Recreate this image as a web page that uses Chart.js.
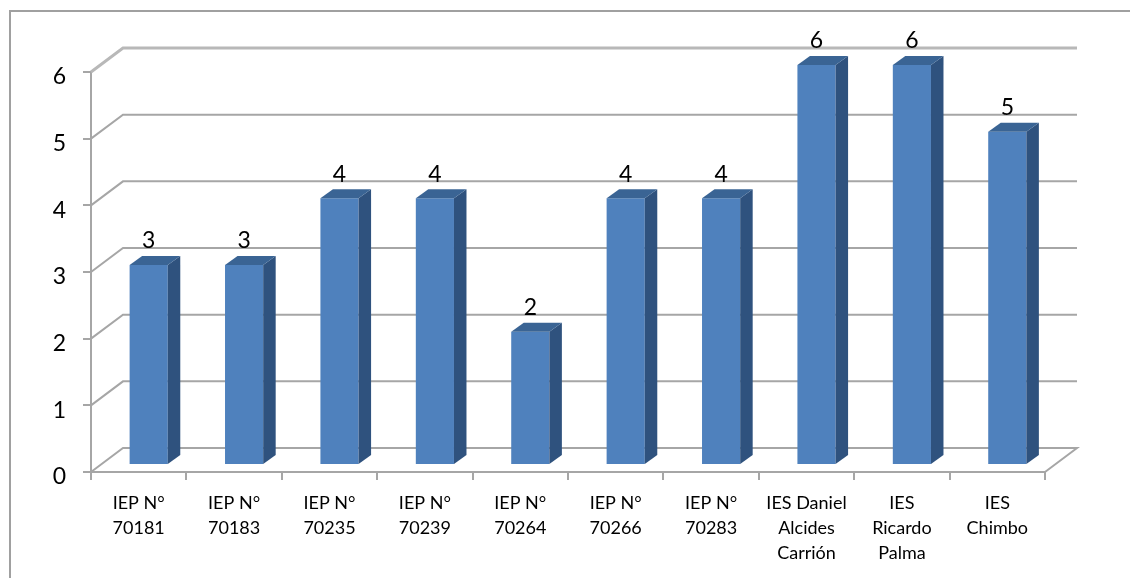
<!DOCTYPE html>
<html>
<head>
<meta charset="utf-8">
<style>
  html, body { margin: 0; padding: 0; background: #fff; }
  canvas { display: block; }
</style>
<script src="https://cdn.jsdelivr.net/npm/chart.js@4/dist/chart.umd.min.js"></script>
</head>
<body>
<canvas id="chart" width="1130" height="578"></canvas>
<script>
const categories = [
  ['IEP N°', '70181'], ['IEP N°', '70183'], ['IEP N°', '70235'], ['IEP N°', '70239'],
  ['IEP N°', '70264'], ['IEP N°', '70266'], ['IEP N°', '70283'],
  ['IES Daniel', 'Alcides', 'Carrión'], ['IES', 'Ricardo', 'Palma'], ['IES', 'Chimbo']
];
const counts = [3, 3, 4, 4, 2, 4, 4, 6, 6, 5];
const yTicks = [0, 1, 2, 3, 4, 5, 6];

// Perspective of the box: wall depth and how far a bar stands inside the floor.
const WALL = { dx: 32, dy: -24 };
const BAR_INSET = { dx: 10, dy: -7 };
const BAR_DEPTH = { dx: 12.5, dy: -9 };
const AXIS_GREY = '#a6a6a6';

const fauxThreeD = {
  id: 'fauxThreeD',
  beforeDraw(chart) {
    const { ctx } = chart;
    // Outer chart border: only the top and left edges fall inside the canvas.
    ctx.save();
    ctx.strokeStyle = '#a0a0a0';
    ctx.lineWidth = 2;
    ctx.beginPath();
    ctx.moveTo(10, 578);
    ctx.lineTo(10, 11);
    ctx.lineTo(1130, 11);
    ctx.stroke();
    ctx.restore();
  },
  beforeDatasetsDraw(chart) {
    const { ctx, scales } = chart;
    const left = scales.x.left, right = scales.x.right;
    ctx.save();
    ctx.lineCap = 'butt';
    yTicks.forEach((t) => {
      const y = scales.y.getPixelForValue(t);
      const isTop = t === yTicks[yTicks.length - 1];
      ctx.strokeStyle = isTop ? '#b8b8b8' : AXIS_GREY;
      ctx.lineWidth = isTop ? 3 : 2;
      ctx.beginPath();
      ctx.moveTo(left, y);
      ctx.lineTo(left + WALL.dx, y + WALL.dy);
      ctx.lineTo(right + WALL.dx, y + WALL.dy);
      if (t === 0) ctx.lineTo(right, y);
      ctx.stroke();
    });
    ctx.restore();
  },
  beforeDatasetDraw(chart) {
    chart.ctx.save();
    chart.ctx.translate(BAR_INSET.dx, BAR_INSET.dy);
  },
  afterDatasetDraw(chart) {
    chart.ctx.restore();
  },
  afterDatasetsDraw(chart) {
    const { ctx } = chart;
    chart.getDatasetMeta(0).data.forEach((bar, i) => {
      const l = bar.x - bar.width / 2 + BAR_INSET.dx;
      const r = bar.x + bar.width / 2 + BAR_INSET.dx;
      const t = bar.y + BAR_INSET.dy;
      const b = bar.base + BAR_INSET.dy;
      const { dx, dy } = BAR_DEPTH;
      ctx.fillStyle = '#2f527e';
      ctx.beginPath();
      ctx.moveTo(r, t);
      ctx.lineTo(r + dx, t + dy);
      ctx.lineTo(r + dx, b + dy);
      ctx.lineTo(r, b);
      ctx.closePath();
      ctx.fill();
      ctx.fillStyle = '#3a6494';
      ctx.beginPath();
      ctx.moveTo(l, t);
      ctx.lineTo(l + dx, t + dy);
      ctx.lineTo(r + dx, t + dy);
      ctx.lineTo(r, t);
      ctx.closePath();
      ctx.fill();
      // Value label above the bar.
      ctx.fillStyle = '#000';
      ctx.font = '23px Lato';
      ctx.textAlign = 'center';
      ctx.textBaseline = 'middle';
      ctx.fillText(String(counts[i]), (l + r) / 2, t - 24);
    });
  }
};

new Chart(document.getElementById('chart'), {
  type: 'bar',
  data: {
    labels: categories,
    datasets: [{
      data: counts,
      backgroundColor: '#4f81bd',
      borderWidth: 0,
      categoryPercentage: 1,
      barPercentage: 0.4
    }]
  },
  plugins: [fauxThreeD],
  options: {
    responsive: false,
    animation: false,
    layout: { padding: { top: 72, right: 85, left: 0, bottom: 0 } },
    plugins: { legend: { display: false }, tooltip: { enabled: false }, title: { display: false } },
    scales: {
      x: {
        afterFit(scale) { scale.height = 106; },
        border: { color: AXIS_GREY, width: 2 },
        grid: { drawOnChartArea: false, color: AXIS_GREY, lineWidth: 2, tickLength: 8 },
        ticks: {
          color: '#000',
          font: { family: 'Lato', size: 18, lineHeight: 25 / 18 },
          padding: 11,
          maxRotation: 0,
          autoSkip: false
        }
      },
      y: {
        min: 0,
        max: 6,
        afterFit(scale) { scale.width = 91; },
        border: { color: AXIS_GREY, width: 2 },
        grid: { drawOnChartArea: false, color: AXIS_GREY, lineWidth: 2, tickLength: 8 },
        ticks: {
          color: '#000',
          stepSize: 1,
          font: { family: 'Lato', size: 23 },
          padding: 17,
          labelOffset: 5
        }
      }
    }
  }
});
</script>
</body>
</html>
